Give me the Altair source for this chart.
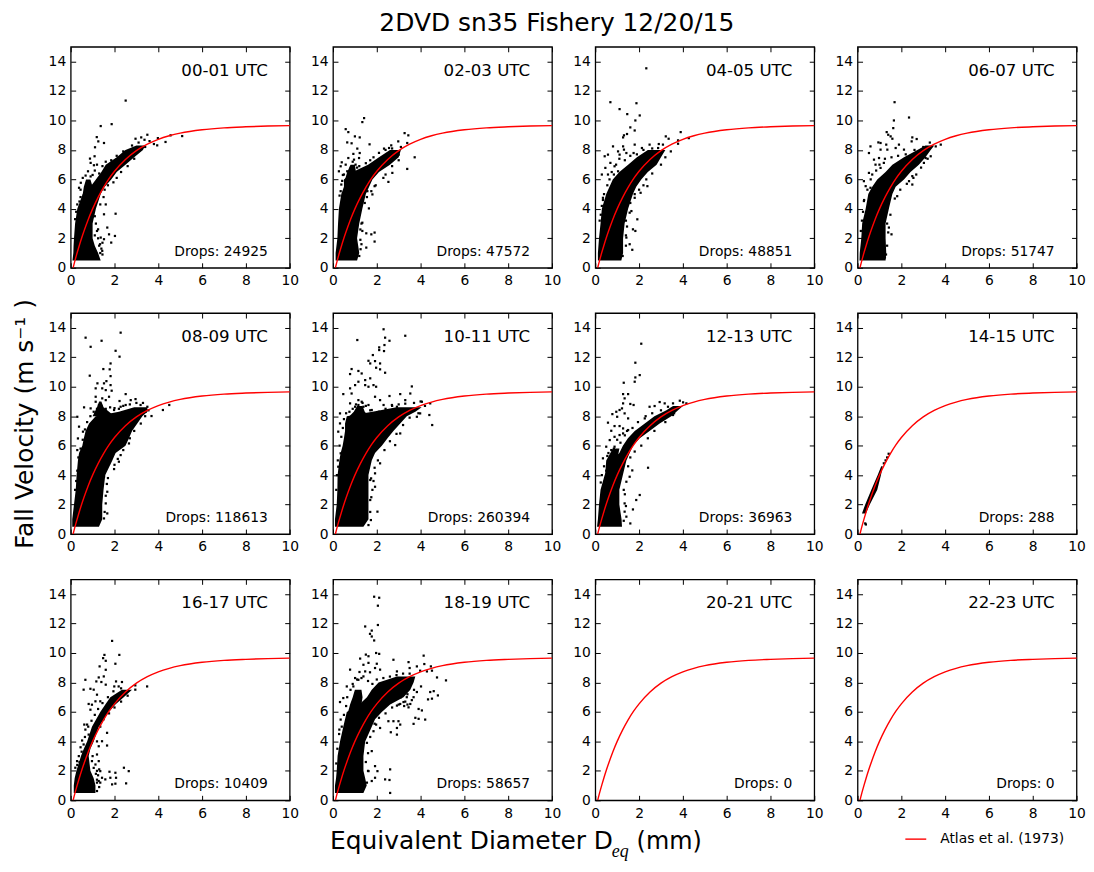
import altair as alt
import pandas as pd

FONT = "DejaVu Sans"
W, H = 220, 222

PANEL_NAMES = ["00-01 UTC", "02-03 UTC", "04-05 UTC", "06-07 UTC",
               "08-09 UTC", "10-11 UTC", "12-13 UTC", "14-15 UTC",
               "16-17 UTC", "18-19 UTC", "20-21 UTC", "22-23 UTC"]
DROP_COUNTS = [24925, 47572, 48851, 51747, 118613, 260394, 36963, 288, 10409, 58657, 0, 0]

CURVE_D = [0.11, 0.2, 0.3, 0.4, 0.5, 0.6, 0.8, 1, 1.25, 1.5, 1.75, 2, 2.5, 3, 3.5, 4, 4.5, 5, 6, 7, 8, 9, 10]
CURVE_V = [0, 0.52, 1.05, 1.55, 2.02, 2.46, 3.28, 4.0, 4.78, 5.46, 6.05, 6.55, 7.35, 7.95, 8.39, 8.72, 8.96, 9.14, 9.37, 9.5, 9.57, 9.62, 9.65]

# dense clouds: (velocity, left edge, right edge)
CLOUD_00 = [(0.5,0.08,1.37),(1,0.12,1.25),(1.5,0.13,1.1),(2,0.15,1.0),(3,0.2,1.0),(4,0.3,1.15),(5,0.55,1.37),(5.5,0.9,1.55),(6,1.15,1.85),(6.5,1.4,2.1),(7,1.6,2.5),(7.5,2.1,2.9),(8,2.5,3.3),(8.3,3.0,3.4)]
CLOUD_02 = [(0.5,0.12,1.1),(1,0.12,1.2),(2,0.2,1.1),(3,0.23,1.2),(4,0.27,1.34),(5,0.38,1.5),(5.5,0.5,1.65),(6,0.5,1.8),(6.5,0.9,2.1),(7,1.6,2.6),(7.5,2.1,3.0),(8,2.6,3.1)]
CLOUD_04 = [(0.5,0.12,1.19),(1,0.12,1.27),(2,0.17,1.27),(3,0.24,1.34),(4,0.3,1.5),(5,0.5,1.72),(5.5,0.65,1.87),(6,0.8,2.1),(6.5,1.1,2.4),(7,1.5,2.8),(7.5,1.9,3.0),(8,2.4,3.2)]
CLOUD_06 = [(0.5,0.09,1.28),(1,0.1,1.31),(2,0.17,1.28),(3,0.21,1.28),(4,0.37,1.43),(5,0.49,1.59),(5.5,0.67,1.74),(6,0.9,2.12),(6.5,1.28,2.42),(7,1.59,2.8),(7.5,2.12,3.1),(8,2.73,3.34),(8.3,3.1,3.5)]
CLOUD_08 = [(0.5,0.07,1.29),(1,0.07,1.44),(2,0.15,1.44),(3,0.23,1.5),(4,0.27,1.58),(5,0.33,1.9),(5.5,0.38,2.05),(6,0.53,2.5),(6.5,0.6,2.66),(7,0.68,2.8),(7.5,0.84,3.04),(8,1.14,3.27),(8.3,2.2,3.5),(8.6,2.9,3.5)]
CLOUD_10 = [(0.5,0.09,1.39),(1,0.09,1.62),(2,0.17,1.62),(3,0.2,1.62),(4,0.21,1.62),(5,0.29,1.77),(5.5,0.35,1.92),(6,0.44,2.23),(6.5,0.5,2.49),(7,0.55,2.76),(7.5,0.55,3.07),(8,0.63,3.37),(8.3,1.8,3.76),(8.6,2.9,4.05)]
CLOUD_12 = [(0.5,0.08,1.22),(1,0.12,1.2),(2,0.17,1.1),(3,0.24,1.1),(4,0.43,1.26),(5,0.73,1.42),(5.5,1.1,1.57),(6,1.26,1.72),(6.5,1.49,2.03),(7,1.8,2.48),(7.5,2.26,2.94),(8,2.7,3.47),(8.4,3.25,3.78),(8.7,3.55,4.0)]
CLOUD_14 = [(1.4,0.2,0.38),(2,0.35,0.56),(3,0.63,0.9),(4,0.92,1.07),(4.6,1.08,1.15)]
CLOUD_16 = [(0.5,0.14,1.13),(1,0.14,1.13),(1.5,0.18,1.05),(2,0.26,0.9),(3,0.47,0.82),(3.5,0.6,0.9),(4,0.75,1.05),(5,0.97,1.28),(6,1.35,1.74),(6.5,1.58,2.04),(7,1.81,2.42),(7.5,2.34,2.8)]
CLOUD_18 = [(0.5,0.09,1.39),(1,0.09,1.54),(1.5,0.14,1.47),(2,0.17,1.39),(3,0.21,1.39),(4,0.32,1.47),(5,0.47,1.77),(5.5,0.55,1.92),(6,0.63,2.23),(6.5,1.2,2.61),(7,1.55,3.22),(7.5,1.77,3.53),(8,2.08,3.68),(8.4,2.92,3.76)]

# thinner side branches of the clouds
BRANCH_00 = [(4.5,0.5,0.8),(5,0.55,1.2),(5.5,0.6,1.0),(6,0.7,0.9)]
BRANCH_02 = [(6,0.55,1.1),(6.5,0.65,1.05),(7,0.8,1.0)]
BRANCH_08 = [(8,1.0,2.0),(8.6,1.2,1.5),(9,1.3,1.4)]
BRANCH_10 = [(8,0.75,1.65),(8.3,0.95,1.45),(8.7,1.1,1.35)]
BRANCH_12 = [(4,0.45,0.9),(5,0.5,1.0),(5.8,0.8,1.1)]
BRANCH_18 = [(5.5,0.6,1.2),(6.5,0.78,1.3),(7,0.9,1.35),(7.5,1.0,1.3)]

# scattered single drops: (diameter, velocity)
DOTS_00 = [(2.51,11.35),(1.87,9.75),(1.37,9.62),(1.19,8.87),(1.26,8.58),(1.52,8.47),(1.11,8.18),(1.09,7.57),(0.88,7.41),(0.91,7.12),(1.06,6.96),(0.79,6.55),(0.68,6.26),(0.55,6.1),(0.38,5.43),(0.79,5.88),(0.46,5.77),(0.91,6.2),(3.5,9.03),(2.96,8.76),(3.22,8.85),(3.37,8.69),(3.8,8.4),(3.95,8.31),(4.33,8.54),(3.98,8.8),(4.56,8.99),(5.09,8.94),(2.05,3.67),(1.6,4.3),(1.52,3.63),(1.67,2.73),(2.02,2.16),(1.85,1.71),(1.44,1.15),(1.37,2.05),(1.52,1.94),(1.25,2.61),(1.34,1.6),(1.75,2.27),(1.0,6.3),(1.1,6.6),(1.2,7.0),(0.45,5.3),(2.9,7.4),(2.6,7.3),(3.4,8.2),(3.6,8.6),(1.35,1.0),(1.45,0.9)]
DOTS_02 = [(1.42,10.16),(1.34,9.89),(0.58,9.41),(0.7,9.21),(1.0,8.92),(1.22,8.85),(0.65,8.51),(0.85,8.45),(1.67,8.38),(1.11,8.09),(0.93,7.73),(1.22,7.79),(0.7,7.45),(0.4,7.16),(0.35,6.89),(0.27,6.55),(0.38,5.65),(0.58,7.0),(0.96,7.34),(1.19,7.45),(0.65,6.55),(0.81,6.78),(0.5,6.33),(1.03,7),(0.88,6.33),(0.73,6),(1.19,6.55),(1.11,6.1),(3.27,9.14),(3.44,8.99),(2.98,8.58),(3.39,8.47),(2.56,8.13),(2.33,8.09),(2.66,8.31),(2.86,7.9),(3.0,7.68),(3.73,7.5),(3.39,6.71),(2.71,6.44),(2.53,5.83),(2.4,6.33),(1.64,4.03),(1.52,2.34),(1.75,2.27),(1.9,2.39),(1.9,1.78),(1.52,1.37),(1.34,2.5),(1.26,1.26),(1.34,3.06),(1.8,4.98),(1.9,5.54),(1.57,5.2)]
DOTS_04 = [(2.33,13.54),(0.69,11.24),(1.88,11.17),(1.11,10.77),(1.46,10.43),(2.03,10.34),(1.83,10),(1.6,9.53),(1.8,9.32),(1.45,9.08),(1.27,8.85),(1.31,8.99),(0.81,8.24),(1.27,8.24),(1.31,8.02),(0.43,7.57),(0.58,7.68),(1.04,7.9),(1.11,7.68),(1.8,8.36),(1.42,7.79),(1.75,7.79),(0.46,6.78),(0.69,7.12),(0.88,6.89),(0.3,6.33),(0.58,6.33),(0.35,4.75),(0.85,6.33),(1.04,6.55),(2.13,8.13),(2.48,8.36),(2.87,8.13),(3.22,8.92),(3.35,8.76),(3.09,8.36),(3.9,9.21),(3.78,8.65),(3.78,8.42),(4.27,8.8),(3.45,7.9),(2.38,5.54),(2.07,5.09),(1.92,3.29),(1.65,3.85),(1.72,2.61),(1.83,2.5),(1.69,1.22),(1.57,1.6),(1.42,2.05),(1.57,3.74),(1.8,4.75),(2.33,6)]
DOTS_06 = [(1.69,11.24),(2.35,10.2),(1.66,10),(1.33,9.21),(1.63,9.48),(1.51,8.92),(1.4,9.03),(1.59,8.76),(2.5,8.85),(2.7,8.74),(2.47,8.58),(0.95,8.51),(1.05,8.47),(1.31,8.36),(0.59,8.24),(1.05,8.02),(0.52,7.79),(0.75,7.34),(0.98,7.45),(1.2,7.12),(1.36,8.02),(1.74,8.13),(2.12,8.02),(1.89,8.36),(0.52,6.44),(0.29,5.88),(0.67,6.33),(0.29,4.53),(0.37,5.54),(0.59,5.43),(0.82,7),(1.05,6.78),(3.8,8.36),(3.57,8.24),(3.34,7.57),(3.11,7.45),(3.03,7.12),(2.5,6.22),(2.68,6.33),(2.5,5.65),(2.35,5.88),(1.81,4.86),(1.55,2.27),(1.43,2.73),(1.25,0.7),(1.36,4.08),(1.43,4.75)]
DOTS_08 = [(2.28,13.67),(0.68,13.33),(0.91,12.71),(1.41,13.12),(2.05,12.44),(2.23,12.04),(1.82,11.58),(1.49,11.2),(1.78,11.18),(0.87,10.75),(1.82,10.72),(1.63,10.38),(1.22,10.23),(1.52,10.23),(1.82,10.11),(1.14,9.89),(1.44,9.89),(1.6,9.77),(1.87,9.73),(1.14,9.32),(1.44,9.21),(1.6,9.09),(1.75,9.32),(2.51,9.5),(2.23,9.03),(2.96,9.16),(2.74,9.09),(1.14,8.98),(1.29,8.76),(1.37,8.53),(0.91,8.53),(0.61,8.6),(0.3,7.96),(0.38,7.29),(0.33,6.49),(0.3,5.7),(0.56,6.95),(1.98,8.42),(2.28,8.64),(2.51,8.76),(3.19,8.76),(3.5,8.64),(3.69,8.01),(4.21,8.42),(4.5,8.76),(3.42,8.3),(2.66,6.15),(2.2,4.91),(1.98,4.41),(1.67,2.87),(1.6,2.08),(1.67,1.4),(1.52,1.06),(1.52,3.89),(1.75,4.8),(2.28,5.36)]
DOTS_10 = [(2.31,13.9),(2.38,13.33),(3.3,13.46),(1.11,13.17),(2.58,13.12),(2.11,12.67),(2.11,12.49),(2.35,12.83),(2.33,12.42),(1.82,12.15),(1.62,11.76),(1.92,11.74),(1.7,11.58),(2.15,11.58),(1.97,11.29),(2.15,11.18),(2.38,10.95),(0.85,11.2),(0.78,10.86),(1.16,11.07),(1.31,10.9),(1.47,10.45),(1.7,10.57),(1.16,10.34),(1.47,10.11),(1.62,10),(1.85,10.11),(1.97,10),(0.78,9.89),(1.01,10.11),(3.6,10.02),(2.58,9.37),(3.07,9.5),(0.47,9.5),(0.85,9.54),(1.92,9.32),(2.15,9.09),(3.3,9.09),(3.53,9.54),(1.16,9.09),(1.31,8.98),(1.16,8.76),(1.39,8.64),(1.01,8.64),(0.78,8.87),(1.62,8.76),(1.77,8.42),(2.31,8.76),(2.69,8.76),(2.92,8.64),(0.32,8.19),(0.32,7.51),(0.24,6.95),(0.35,5.48),(0.24,4.57),(4.06,8.98),(4.44,8.87),(3.98,8.19),(4.4,8.08),(4.53,7.4),(3.83,7.96),(3.07,6.83),(2.84,6.04),(2.15,4.8),(1.92,4.12),(1.74,3.78),(1.92,3.21),(2.03,1.52),(1.73,0.95),(1.62,0.61),(1.7,2.31),(1.7,3.67)]
DOTS_12 = [(2.1,12.92),(1.83,11.63),(2.03,10.79),(1.83,10.63),(1.8,10.34),(1.3,10.27),(1.27,9.5),(1.5,9.5),(1.34,9.21),(1.27,8.87),(1.6,8.83),(1.75,8.76),(1.22,8.53),(1.11,8.42),(0.96,8.3),(0.78,8.14),(1.0,7.96),(1.34,8.19),(1.5,7.85),(0.58,7.56),(0.88,7.33),(1.11,7.33),(1.27,7.17),(1.5,7.06),(0.73,7.01),(0.88,6.6),(0.66,6.38),(1.11,6.72),(1.27,6.83),(0.5,5.93),(0.35,5.14),(0.88,5.93),(0.73,5.7),(2.41,4.5),(1.69,4.32),(1.57,3.89),(1.42,3.55),(2.03,2.65),(1.87,2.31),(1.72,1.67),(1.34,1.52),(1.42,1.18),(1.6,0.72),(1.34,2.08),(2.48,8.64),(2.71,8.69),(2.94,8.96),(3.17,8.87),(3.32,8.64),(3.55,8.87),(3.86,9.05),(4.01,8.94),(4.16,8.87),(2.26,7.85),(3.55,8.08)]
DOTS_14 = [(1.28,5.0),(1.35,5.2),(1.42,5.45),(1.2,4.8),(0.35,0.72),(0.38,0.65)]
DOTS_16 = [(1.89,10.82),(1.54,9.87),(1.48,9.65),(2.22,9.87),(1.6,9.47),(2.04,9.27),(1.32,9.09),(1.6,8.86),(1.51,8.41),(1.28,8.34),(1.17,8.07),(1.4,8.03),(0.67,8.18),(1.6,7.85),(0.9,7.57),(0.59,7.51),(1.05,7.51),(2.07,8.07),(2.34,8.03),(2.95,7.8),(2.95,7.51),(3.49,7.73),(1.2,7.17),(1.35,6.72),(0.82,6.54),(0.97,6.49),(0.9,6.15),(1.13,6.72),(0.62,5.14),(0.67,4.8),(0.52,4.06),(0.59,3.79),(0.75,5.14),(0.82,4.46),(1.66,4.58),(1.43,4.01),(1.66,3.72),(1.28,3.67),(0.37,3.0),(0.29,2.66),(0.21,2.21),(1.2,3.11),(1.28,2.66),(1.13,2.43),(0.97,2.66),(2.43,2.21),(2.65,1.98),(1.77,1.94),(2.04,1.87),(2.07,1.53),(1.81,1.53),(1.58,1.42),(1.35,1.98),(1.43,1.53),(1.28,1.31),(1.89,1.08),(2.53,1.15),(1.2,0.63),(2.04,1.13),(1.99,7.73),(2.19,7.73),(1.25,1.7),(1.2,1.4),(1.35,1.2),(1.3,2.1),(1.2,2.0)]
DOTS_18 = [(1.88,13.82),(2.11,13.75),(2.05,13.21),(2.05,11.9),(1.47,11.8),(1.77,11.52),(1.69,11.3),(1.77,11.12),(1.88,10.85),(1.97,10),(2.11,9.94),(1.5,9.89),(1.62,9.78),(1.24,9.62),(1.39,9.2),(1.62,9.33),(2,9.27),(1.92,8.98),(2.15,8.87),(0.78,8.87),(1.21,8.71),(1.47,8.75),(1.69,8.69),(1.39,8.41),(1.01,8.3),(1.16,8.18),(0.63,7.73),(0.93,7.73),(0.32,6.67),(0.47,6.94),(0.35,5.48),(0.29,4.8),(2.76,9.54),(2.92,8.75),(3.45,9.38),(3.5,8.98),(3.83,9.09),(4.14,9.82),(4.17,9.25),(4.47,9.09),(4.52,8.8),(4.75,8.34),(5.16,8.14),(3.98,8.8),(4.29,8.75),(4.6,7.41),(4.44,7.35),(4.79,7.12),(4.34,6.85),(4.52,6.9),(4.02,7.73),(3.83,7.35),(3.68,7),(3.91,6.2),(4.06,6.1),(3.53,6.54),(3.45,6.31),(3.37,7),(3.22,6.67),(3.07,6.54),(2.92,6.43),(3.76,5.6),(3.91,5.53),(4.21,5.48),(3.68,5.19),(3.07,5.14),(2.92,4.91),(2.99,5.37),(2.76,5.37),(2.53,5.37),(2.92,4.46),(2.64,4.62),(2.15,4.91),(1.97,5.14),(1.85,4.69),(1.77,3.34),(1.92,2.32),(2.03,1.98),(2.61,2.1),(2.58,1.38),(2.38,1.42),(2.61,0.5),(1.92,1.53),(1.77,1.31),(1.62,1.98)]

# drops that roughen the rim of each cloud
EDGE_00 = [(0.2,3.3),(0.25,3.8),(0.3,4.3),(0.4,4.5),(0.45,4.8),(1.1,3.5),(1.15,3.0),(1.2,2.5),(1.25,2.0),(1.3,1.5),(1.4,1.3),(1.45,1.7),(1.1,2.2),(1.35,4.3),(1.5,4.8),(1.55,5.3),(1.7,5.6),(1.95,5.8),(2.1,6.1),(2.3,6.5),(2.6,6.9),(1.3,6.4),(1.45,6.9),(1.6,7.2),(1.85,7.3),(2.1,7.6),(2.4,7.9),(2.8,8.3),(3.1,8.5)]
EDGE_02 = [(0.3,4.9),(0.35,5.2),(0.42,5.9),(0.45,6.3),(1.3,3),(1.25,2.6),(1.25,1.9),(1.3,1.6),(1.2,0.8),(1.45,4.4),(1.55,4.8),(1.75,5.2),(1.95,5.6),(2.3,6.1),(2.7,6.9),(3,7.3),(1.4,6.7),(1.5,7.1),(1.7,7.3),(1.85,7.5),(2.1,7.8),(2.4,8),(2.7,8.1),(3.1,8.2),(1.1,6.8),(1.2,6.9),(0.9,7.2)]
EDGE_04 = [(0.2,3.2),(0.25,3.6),(0.3,4.2),(0.35,4.6),(0.4,5),(0.55,5.6),(0.65,6),(0.75,6.5),(0.95,7),(1.1,7.4),(1.35,7.3),(1.6,7.6),(1.9,7.7),(2.2,8),(2.6,8.1),(2.9,8.4),(1.4,3.2),(1.45,2.8),(1.4,2.2),(1.4,1.5),(1.25,0.8),(1.6,4.4),(1.8,5),(2,5.3),(2.2,5.6),(2.6,6.4),(3,7),(3.2,7.5)]
EDGE_06 = [(0.15,2.5),(0.2,3.2),(0.25,3.8),(0.3,4.6),(0.45,5.3),(0.6,6),(0.85,6.6),(1,7),(1.25,7.4),(1.55,7.5),(1.85,7.6),(2.2,7.7),(2.6,8),(3,8.2),(3.3,8.5),(1.35,3),(1.4,2.4),(1.35,1.5),(1.3,0.9),(1.5,3.6),(1.7,4.7),(1.95,5.3),(2.25,5.7),(2.55,6.1),(2.9,6.8),(3.2,7.4)]
EDGE_08 = [(0.2,3),(0.25,3.6),(0.3,4.3),(0.35,5.2),(0.45,5.8),(0.55,6.4),(0.65,7.1),(0.75,7.6),(0.9,8),(1.05,8.3),(1.2,8.5),(1.4,8.7),(1.6,8.5),(1.8,8.6),(2,8.55),(2.2,8.5),(2.4,8.7),(2.7,8.8),(3,8.9),(3.3,8.9),(3.55,8.4),(1.55,1.5),(1.6,2.6),(1.65,3.4),(1.7,3.8),(2,4.7),(2.15,5.1),(2.4,5.7),(2.7,6.5),(2.9,7),(3.2,7.5),(3.4,8)]
EDGE_10 = [(0.15,3),(0.18,4),(0.22,5),(0.3,6),(0.38,6.6),(0.45,7.2),(0.5,7.8),(0.6,8.2),(0.75,8.3),(0.9,8.5),(1.05,8.8),(1.2,8.6),(1.35,8.9),(1.5,8.7),(1.7,8.4),(1.85,8.2),(2.1,8.3),(2.4,8.5),(2.7,8.7),(3,8.8),(3.3,8.85),(3.7,8.9),(4,9),(4.2,8.7),(1.7,1.5),(1.75,2.5),(1.8,3),(1.85,3.6),(1.9,4.5),(2.05,5),(2.35,5.7),(2.6,6.3),(2.9,6.8),(3.2,7.4),(3.5,7.9),(3.9,8.2)]
EDGE_12 = [(0.25,3.5),(0.3,4.0),(0.4,4.6),(0.55,5.3),(0.45,3.8),(0.5,4.3),(0.65,4.8),(0.6,5.5),(0.85,5.8),(1,6.4),(1.15,6.2),(1.35,6.7),(1.45,7),(1.7,7.2),(1.95,7.6),(2.3,8),(2.6,8.2),(3.0,8.4),(1.3,3),(1.35,2.7),(1.4,1.9),(1.3,0.9),(1.5,4.6),(1.6,5.2),(1.8,5.6),(2.1,6),(2.4,6.5),(2.7,7),(3.2,7.6),(3.6,8.2)]
EDGE_16 = [(0.3,2.4),(0.4,2.6),(0.5,3.3),(0.7,3),(0.8,3.4),(1.0,3.0),(1.05,2.2),(1.15,1.8),(1.2,1.2),(1.3,0.9),(0.45,3.6),(0.65,4.3),(0.8,5),(0.95,5.4),(1.1,5.8),(1.25,6.2),(1.45,6.6),(1.7,7.0),(1.95,7.4),(2.3,7.6),(1.35,5),(1.5,5.5),(1.75,5.9),(2,6.3),(2.3,6.7),(2.6,7.1),(1.1,4.5),(1.2,4.0),(1.0,4.2)]
EDGE_18 = [(0.15,2.5),(0.2,3.5),(0.28,4.5),(0.4,5),(0.5,5.8),(0.6,6.4),(0.65,7),(0.8,7.5),(0.9,7.9),(1.1,8.2),(1.3,8.3),(1.6,8.1),(1.8,7.9),(2,8.2),(2.3,8.3),(2.6,8.4),(2.9,8.5),(3.2,8.6),(3.5,8.6),(1.55,1.2),(1.6,2),(1.5,2.6),(1.6,3.2),(1.55,3.9),(1.7,4.3),(1.9,5.2),(2.1,5.6),(2.4,5.9),(2.7,6.3),(3,6.5),(3.3,6.7),(3.4,7.2),(3.7,7.5),(3.6,8),(2.9,6.9),(3.1,7),(3.25,6.4),(3.4,6.5),(3.6,6.8)]

CLOUDS = [[CLOUD_00, BRANCH_00], [CLOUD_02, BRANCH_02], [CLOUD_04], [CLOUD_06],
          [CLOUD_08, BRANCH_08], [CLOUD_10, BRANCH_10], [CLOUD_12, BRANCH_12], [CLOUD_14],
          [CLOUD_16], [CLOUD_18, BRANCH_18], [], []]
DOTS = [DOTS_00 + EDGE_00, DOTS_02 + EDGE_02, DOTS_04 + EDGE_04, DOTS_06 + EDGE_06,
        DOTS_08 + EDGE_08, DOTS_10 + EDGE_10, DOTS_12 + EDGE_12, DOTS_14,
        DOTS_16 + EDGE_16, DOTS_18 + EDGE_18, [], []]

XLABEL_MAIN = "Equivalent Diameter D"
XLABEL_SUB = "eq"
XLABEL_END = "(mm)"
YLABEL = "Fall Velocity (m s\u207b\u00b9 )"
SUPTITLE = "2DVD sn35 Fishery 12/20/15"
LEGEND_LABEL = "Atlas et al. (1973)"

xs = alt.Scale(domain=[0, 10], nice=False)
ys = alt.Scale(domain=[0, 15], nice=False)
XT = [0, 2, 4, 6, 8, 10]
YT = [0, 2, 4, 6, 8, 10, 12, 14]
curve = pd.DataFrame({"d": CURVE_D, "v": CURVE_V})


def tick_axis(values, orient, offset):
    return alt.Axis(values=values, orient=orient, offset=offset, labels=False, domain=False,
                    grid=False, ticks=True, tickSize=5, tickColor="black", tickWidth=1,
                    title=None, zindex=1)


def label_text(text, x, y, size, **kw):
    return alt.Chart(pd.DataFrame({"t": [text]})).mark_text(
        font=kw.pop("font", FONT), fontSize=size, color="black", **kw
    ).encode(x=alt.value(x), y=alt.value(y), text="t:N")


def panel(i):
    layers = []
    # axes: one set with labels, two sets carrying the inward ticks
    ax_y = dict(values=YT, orient="left", domain=False, grid=False, ticks=False, labelPadding=5,
                labelFlush=False, labelOverlap=False,
                labelFont=FONT, labelFontSize=13.9, labelColor="black", title=None)
    if i == 4:
        ax_y.update(title=YLABEL, titleFont=FONT, titleFontSize=25, titleFontWeight="normal",
                    titleColor="black", titlePadding=11)
    ax_x = alt.Axis(values=XT, orient="bottom", domain=False, grid=False, ticks=False, labelPadding=6,
                    labelFlush=False, labelOverlap=False,
                    labelFont=FONT, labelFontSize=13.9, labelColor="black", title=None)
    base = alt.Chart(curve).mark_line(opacity=0)
    layers.append(base.encode(x=alt.X("d:Q", scale=xs, axis=ax_x), y=alt.Y("v:Q", scale=ys, axis=alt.Axis(**ax_y))))
    layers.append(base.encode(x=alt.X("d:Q", scale=xs, axis=tick_axis(XT, "top", -H)),
                              y=alt.Y("v:Q", scale=ys, axis=tick_axis(YT, "right", -W))))
    layers.append(base.encode(x=alt.X("d:Q", scale=xs, axis=tick_axis(XT, "bottom", -H)),
                              y=alt.Y("v:Q", scale=ys, axis=tick_axis(YT, "left", -W))))
    for cloud in CLOUDS[i]:
        df = pd.DataFrame(cloud, columns=["v", "lo", "hi"])
        layers.append(alt.Chart(df).mark_area(orient="horizontal", color="black").encode(
            y=alt.Y("v:Q", scale=ys, axis=None),
            x=alt.X("lo:Q", scale=xs, axis=None), x2="hi:Q"))
    if DOTS[i]:
        df = pd.DataFrame(DOTS[i], columns=["d", "v"])
        layers.append(alt.Chart(df).mark_square(size=5, color="black", opacity=1).encode(
            x=alt.X("d:Q", scale=xs, axis=None), y=alt.Y("v:Q", scale=ys, axis=None)))
    layers.append(alt.Chart(curve).mark_line(color="red", strokeWidth=1.4, interpolate="monotone").encode(
        x=alt.X("d:Q", scale=xs, axis=None), y=alt.Y("v:Q", scale=ys, axis=None)))
    layers.append(label_text(PANEL_NAMES[i], 198, 24, 16.7, align="right", baseline="middle"))
    layers.append(label_text(f"Drops: {DROP_COUNTS[i]}", 198, 206, 13.9, align="right", baseline="middle"))
    if i == 9:
        layers.append(label_text(XLABEL_MAIN, -3, 271, 25, align="left", baseline="alphabetic"))
        layers.append(label_text(XLABEL_SUB, 280, 279, 18, align="left", baseline="alphabetic",
                                 font="Liberation Serif", fontStyle="italic"))
        layers.append(label_text(XLABEL_END, 305, 271, 24, align="left", baseline="alphabetic"))
    if i == 11:
        layers.append(alt.Chart(pd.DataFrame({"s": [LEGEND_LABEL]})).mark_rule(color="red", strokeWidth=1.4).encode(
            x=alt.value(48), x2=alt.value(69), y=alt.value(261)))
        layers.append(label_text(LEGEND_LABEL, 83, 261, 13.9, align="left", baseline="middle"))
    return alt.layer(*layers).resolve_axis(x="independent", y="independent").properties(width=W, height=H)


chart = alt.concat(*[panel(i) for i in range(12)], columns=4, bounds="flush",
                   spacing=alt.RowColnumber(row=45.5, column=43.5)).properties(
    title=alt.TitleParams(SUPTITLE, font=FONT, fontSize=25, fontWeight="normal", color="black",
                          anchor="middle", dx=8, offset=10),
    padding={"left": 3, "top": 0, "right": 0, "bottom": 0},
    background="white",
).configure_view(stroke="black", strokeWidth=1.3)

chart.save("out.html", embed_options={"renderer": "svg", "actions": False})
